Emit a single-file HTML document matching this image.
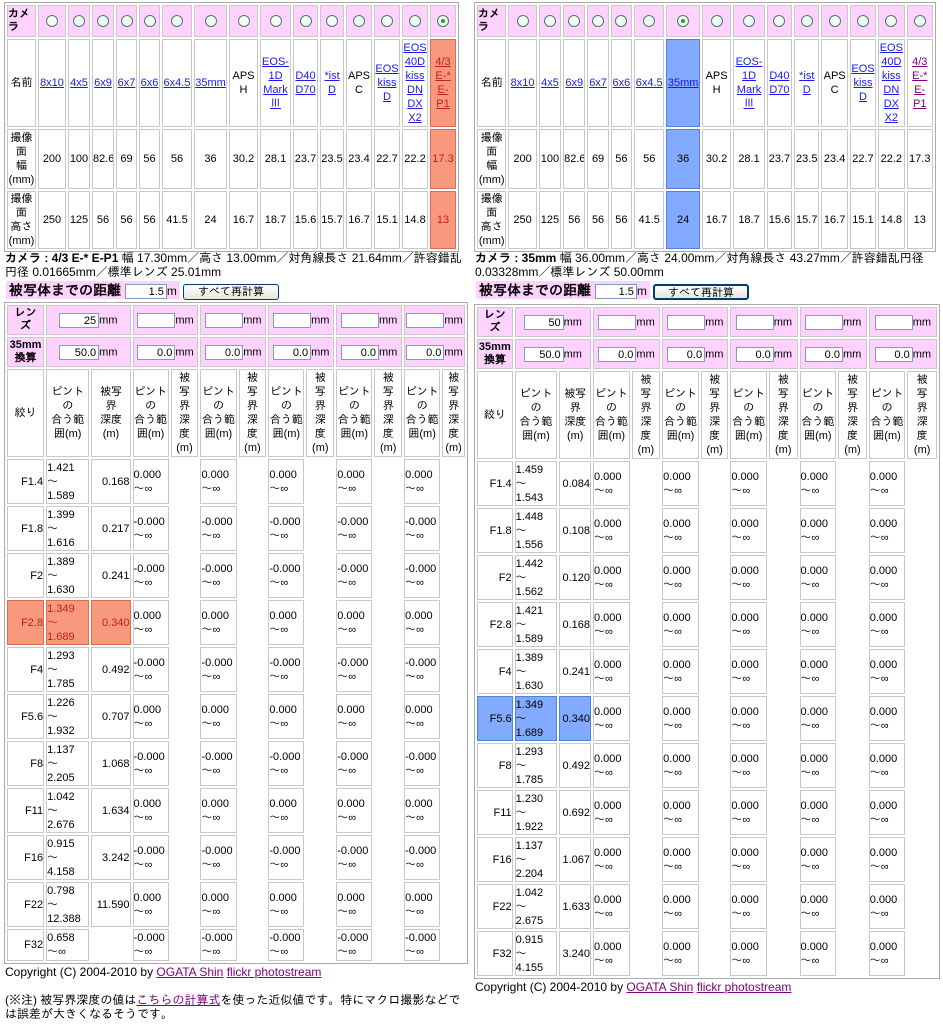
<!DOCTYPE html>
<html><head><meta charset="utf-8">
<style>
body{margin:0;width:943px;height:1024px;background:#fff;font-family:"Liberation Sans","IPAGothic","Noto Sans CJK JP",sans-serif;font-size:11px;color:#000;position:relative;overflow:hidden}
.p{position:absolute}
table{border-collapse:separate;border-spacing:2px;table-layout:fixed;border:1px solid #aaa;empty-cells:hide}
td{border:1px solid #c8c8c8;padding:0;box-sizing:border-box;line-height:14px;overflow:hidden;white-space:nowrap}
.pk{background:#ffd2ff}
.c{text-align:center}
.r{text-align:right}
a{color:#1a1aee;text-decoration:underline}
.sel{background:#f8997e;border-color:#e06a50;color:#c02020}
.sel a{color:#c02020}
.blu{background:#82aaff;border-color:#5080e0}
.rad{display:inline-block;width:10px;height:10px;border:1px solid #4a7a70;border-radius:50%;background:#f4fff4;vertical-align:middle}
.rad.on::after{content:"";display:block;width:4px;height:4px;margin:3px;border-radius:50%;background:#2a9a2a}
.inp{display:inline-block;border:1px solid #7f9db9;background:#fff;height:15px;line-height:15px;text-align:right;padding-right:2px;box-sizing:border-box;vertical-align:middle}
.btn{display:inline-block;border:1px solid #003c74;border-radius:3px;background:linear-gradient(#fff,#e6e6de);height:16px;line-height:14px;font-size:11px;text-align:center;vertical-align:middle;box-sizing:border-box}
.pt{vertical-align:top;text-align:left;padding-top:1px}
.dv{text-align:left}
.hd td{vertical-align:middle;text-align:center;line-height:14px}
.tx{line-height:14px;font-size:12px}
.dist{background:#ffd2ff;font-weight:bold;font-size:14px;padding:1px 3px}
</style></head><body>

<!-- LEFT TOP TABLE -->
<div class="p" style="left:4px;top:2px">
<table style="width:454px">
<col style="width:29px"><col style="width:28px"><col style="width:22px"><col style="width:22px"><col style="width:21px"><col style="width:21px"><col style="width:30px"><col style="width:33px"><col style="width:29px"><col style="width:31px"><col style="width:25px"><col style="width:24px"><col style="width:26px"><col style="width:26px"><col style="width:26px"><col style="width:26px">
<tr style="height:32px"><td class="pk" style="font-weight:bold;line-height:13px">カメ<br>ラ</td><td class="pk c"><span class="rad"></span></td><td class="pk c"><span class="rad"></span></td><td class="pk c"><span class="rad"></span></td><td class="pk c"><span class="rad"></span></td><td class="pk c"><span class="rad"></span></td><td class="pk c"><span class="rad"></span></td><td class="pk c"><span class="rad"></span></td><td class="pk c"><span class="rad"></span></td><td class="pk c"><span class="rad"></span></td><td class="pk c"><span class="rad"></span></td><td class="pk c"><span class="rad"></span></td><td class="pk c"><span class="rad"></span></td><td class="pk c"><span class="rad"></span></td><td class="pk c"><span class="rad"></span></td><td class="pk c"><span class="rad on"></span></td></tr>
<tr style="height:88px" class="c"><td>名前</td><td><a>8x10</a></td><td><a>4x5</a></td><td><a>6x9</a></td><td><a>6x7</a></td><td><a>6x6</a></td><td><a>6x4.5</a></td><td><a>35mm</a></td><td>APS<br>H</td><td><a>EOS-<br>1D<br>Mark<br>Ⅲ</a></td><td><a>D40<br>D70</a></td><td><a>*ist<br>D</a></td><td>APS<br>C</td><td><a>EOS<br>kiss<br>D</a></td><td><a>EOS<br>40D<br>kiss<br>DN<br>DX<br>X2</a></td><td class="sel"><a>4/3<br>E-*<br>E-<br>P1</a></td></tr>
<tr style="height:60px" class="c"><td>撮像<br>面<br>幅<br>(mm)</td><td>200</td><td>100</td><td>82.6</td><td>69</td><td>56</td><td>56</td><td>36</td><td>30.2</td><td>28.1</td><td>23.7</td><td>23.5</td><td>23.4</td><td>22.7</td><td>22.2</td><td class="sel">17.3</td></tr>
<tr style="height:58px" class="c"><td>撮像<br>面<br>高さ<br>(mm)</td><td>250</td><td>125</td><td>56</td><td>56</td><td>56</td><td>41.5</td><td>24</td><td>16.7</td><td>18.7</td><td>15.6</td><td>15.7</td><td>16.7</td><td>15.1</td><td>14.8</td><td class="sel">13</td></tr>
</table></div>

<div class="p tx" style="left:5px;top:251px;width:462px"><b>カメラ : 4/3 E-* E-P1</b> 幅 17.30mm／高さ 13.00mm／対角線長さ 21.64mm／許容錯乱円径 0.01665mm／標準レンズ 25.01mm</div>
<div class="p" style="left:6px;top:282px"><span class="dist">被写体までの距離 <span class="inp" style="width:42px;font-weight:normal;font-size:11px">1.5</span><span style="font-weight:normal;font-size:12px">m</span></span> <span class="btn" style="width:96px">すべて再計算</span></div>

<!-- RIGHT TOP TABLE -->
<div class="p" style="left:474px;top:2px">
<table style="width:462px">
<col style="width:29px"><col style="width:28px"><col style="width:22px"><col style="width:22px"><col style="width:21px"><col style="width:21px"><col style="width:30px"><col style="width:33px"><col style="width:29px"><col style="width:31px"><col style="width:25px"><col style="width:25px"><col style="width:26px"><col style="width:26px"><col style="width:26px"><col style="width:26px">
<tr style="height:32px"><td class="pk" style="font-weight:bold;line-height:13px">カメ<br>ラ</td><td class="pk c"><span class="rad"></span></td><td class="pk c"><span class="rad"></span></td><td class="pk c"><span class="rad"></span></td><td class="pk c"><span class="rad"></span></td><td class="pk c"><span class="rad"></span></td><td class="pk c"><span class="rad"></span></td><td class="pk c"><span class="rad on"></span></td><td class="pk c"><span class="rad"></span></td><td class="pk c"><span class="rad"></span></td><td class="pk c"><span class="rad"></span></td><td class="pk c"><span class="rad"></span></td><td class="pk c"><span class="rad"></span></td><td class="pk c"><span class="rad"></span></td><td class="pk c"><span class="rad"></span></td><td class="pk c"><span class="rad"></span></td></tr>
<tr style="height:88px" class="c"><td>名前</td><td><a>8x10</a></td><td><a>4x5</a></td><td><a>6x9</a></td><td><a>6x7</a></td><td><a>6x6</a></td><td><a>6x4.5</a></td><td class="blu"><a>35mm</a></td><td>APS<br>H</td><td><a>EOS-<br>1D<br>Mark<br>Ⅲ</a></td><td><a>D40<br>D70</a></td><td><a>*ist<br>D</a></td><td>APS<br>C</td><td><a>EOS<br>kiss<br>D</a></td><td><a>EOS<br>40D<br>kiss<br>DN<br>DX<br>X2</a></td><td><a style="color:#800080">4/3<br>E-*<br>E-<br>P1</a></td></tr>
<tr style="height:60px" class="c"><td>撮像<br>面<br>幅<br>(mm)</td><td>200</td><td>100</td><td>82.6</td><td>69</td><td>56</td><td>56</td><td class="blu">36</td><td>30.2</td><td>28.1</td><td>23.7</td><td>23.5</td><td>23.4</td><td>22.7</td><td>22.2</td><td>17.3</td></tr>
<tr style="height:58px" class="c"><td>撮像<br>面<br>高さ<br>(mm)</td><td>250</td><td>125</td><td>56</td><td>56</td><td>56</td><td>41.5</td><td class="blu">24</td><td>16.7</td><td>18.7</td><td>15.6</td><td>15.7</td><td>16.7</td><td>15.1</td><td>14.8</td><td>13</td></tr>
</table></div>

<div class="p tx" style="left:475px;top:251px;width:466px"><b>カメラ : 35mm</b> 幅 36.00mm／高さ 24.00mm／対角線長さ 43.27mm／許容錯乱円径 0.03328mm／標準レンズ 50.00mm</div>
<div class="p" style="left:476px;top:282px"><span class="dist">被写体までの距離 <span class="inp" style="width:42px;font-weight:normal;font-size:11px">1.5</span><span style="font-weight:normal;font-size:12px">m</span></span> <span class="btn" style="width:96px;border-width:2px">すべて再計算</span></div>

<!-- LEFT LOWER TABLE -->
<div class="p" style="left:4px;top:302px">
<table style="width:464px">
<col style="width:36px"><col style="width:42px"><col style="width:38px"><col style="width:35px"><col style="width:27px"><col style="width:35px"><col style="width:27px"><col style="width:35px"><col style="width:27px"><col style="width:35px"><col style="width:27px"><col style="width:35px"><col style="width:22px">
<tr style="height:30px"><td class="pk c" style="font-weight:bold;line-height:13px">レン<br>ズ</td><td colspan="2" class="pk c"><span class="inp" style="width:40px">25</span>mm</td><td colspan="2" class="pk c"><span class="inp" style="width:38px"></span>mm</td><td colspan="2" class="pk c"><span class="inp" style="width:38px"></span>mm</td><td colspan="2" class="pk c"><span class="inp" style="width:38px"></span>mm</td><td colspan="2" class="pk c"><span class="inp" style="width:38px"></span>mm</td><td colspan="2" class="pk c"><span class="inp" style="width:38px"></span>mm</td></tr>
<tr style="height:30px"><td class="pk c" style="font-weight:bold;line-height:13px">35mm<br>換算</td><td colspan="2" class="pk c"><span class="inp" style="width:40px">50.0</span>mm</td><td colspan="2" class="pk c"><span class="inp" style="width:38px">0.0</span>mm</td><td colspan="2" class="pk c"><span class="inp" style="width:38px">0.0</span>mm</td><td colspan="2" class="pk c"><span class="inp" style="width:38px">0.0</span>mm</td><td colspan="2" class="pk c"><span class="inp" style="width:38px">0.0</span>mm</td><td colspan="2" class="pk c"><span class="inp" style="width:38px">0.0</span>mm</td></tr>
<tr style="height:88px" class="hd"><td>絞り</td><td>ピント<br>の<br>合う範<br>囲(m)</td><td>被写<br>界<br>深度<br>(m)</td><td>ピント<br>の<br>合う範<br>囲(m)</td><td>被<br>写<br>界<br>深<br>度<br>(m)</td><td>ピント<br>の<br>合う範<br>囲(m)</td><td>被<br>写<br>界<br>深<br>度<br>(m)</td><td>ピント<br>の<br>合う範<br>囲(m)</td><td>被<br>写<br>界<br>深<br>度<br>(m)</td><td>ピント<br>の<br>合う範<br>囲(m)</td><td>被<br>写<br>界<br>深<br>度<br>(m)</td><td>ピント<br>の<br>合う範<br>囲(m)</td><td>被<br>写<br>界<br>深<br>度<br>(m)</td></tr>
<tr style="height:45px"><td class="r">F1.4</td><td class="pt">1.421<br>～<br>1.589</td><td class="r">0.168</td><td class="dv">0.000<br>～∞</td><td></td><td class="dv">0.000<br>～∞</td><td></td><td class="dv">0.000<br>～∞</td><td></td><td class="dv">0.000<br>～∞</td><td></td><td class="dv">0.000<br>～∞</td><td></td></tr>
<tr style="height:45px"><td class="r">F1.8</td><td class="pt">1.399<br>～<br>1.616</td><td class="r">0.217</td><td class="dv">-0.000<br>～∞</td><td></td><td class="dv">-0.000<br>～∞</td><td></td><td class="dv">-0.000<br>～∞</td><td></td><td class="dv">-0.000<br>～∞</td><td></td><td class="dv">-0.000<br>～∞</td><td></td></tr>
<tr style="height:45px"><td class="r">F2</td><td class="pt">1.389<br>～<br>1.630</td><td class="r">0.241</td><td class="dv">-0.000<br>～∞</td><td></td><td class="dv">-0.000<br>～∞</td><td></td><td class="dv">-0.000<br>～∞</td><td></td><td class="dv">-0.000<br>～∞</td><td></td><td class="dv">-0.000<br>～∞</td><td></td></tr>
<tr style="height:45px"><td class="r sel">F2.8</td><td class="pt sel">1.349<br>～<br>1.689</td><td class="r sel">0.340</td><td class="dv">0.000<br>～∞</td><td></td><td class="dv">0.000<br>～∞</td><td></td><td class="dv">0.000<br>～∞</td><td></td><td class="dv">0.000<br>～∞</td><td></td><td class="dv">0.000<br>～∞</td><td></td></tr>
<tr style="height:45px"><td class="r">F4</td><td class="pt">1.293<br>～<br>1.785</td><td class="r">0.492</td><td class="dv">-0.000<br>～∞</td><td></td><td class="dv">-0.000<br>～∞</td><td></td><td class="dv">-0.000<br>～∞</td><td></td><td class="dv">-0.000<br>～∞</td><td></td><td class="dv">-0.000<br>～∞</td><td></td></tr>
<tr style="height:45px"><td class="r">F5.6</td><td class="pt">1.226<br>～<br>1.932</td><td class="r">0.707</td><td class="dv">0.000<br>～∞</td><td></td><td class="dv">0.000<br>～∞</td><td></td><td class="dv">0.000<br>～∞</td><td></td><td class="dv">0.000<br>～∞</td><td></td><td class="dv">0.000<br>～∞</td><td></td></tr>
<tr style="height:45px"><td class="r">F8</td><td class="pt">1.137<br>～<br>2.205</td><td class="r">1.068</td><td class="dv">-0.000<br>～∞</td><td></td><td class="dv">-0.000<br>～∞</td><td></td><td class="dv">-0.000<br>～∞</td><td></td><td class="dv">-0.000<br>～∞</td><td></td><td class="dv">-0.000<br>～∞</td><td></td></tr>
<tr style="height:45px"><td class="r">F11</td><td class="pt">1.042<br>～<br>2.676</td><td class="r">1.634</td><td class="dv">0.000<br>～∞</td><td></td><td class="dv">0.000<br>～∞</td><td></td><td class="dv">0.000<br>～∞</td><td></td><td class="dv">0.000<br>～∞</td><td></td><td class="dv">0.000<br>～∞</td><td></td></tr>
<tr style="height:45px"><td class="r">F16</td><td class="pt">0.915<br>～<br>4.158</td><td class="r">3.242</td><td class="dv">-0.000<br>～∞</td><td></td><td class="dv">-0.000<br>～∞</td><td></td><td class="dv">-0.000<br>～∞</td><td></td><td class="dv">-0.000<br>～∞</td><td></td><td class="dv">-0.000<br>～∞</td><td></td></tr>
<tr style="height:45px"><td class="r">F22</td><td class="pt">0.798<br>～<br>12.388</td><td class="r">11.590</td><td class="dv">0.000<br>～∞</td><td></td><td class="dv">0.000<br>～∞</td><td></td><td class="dv">0.000<br>～∞</td><td></td><td class="dv">0.000<br>～∞</td><td></td><td class="dv">0.000<br>～∞</td><td></td></tr>
<tr style="height:32px"><td class="r">F32</td><td class="pt">0.658<br>～∞</td><td></td><td class="dv">-0.000<br>～∞</td><td></td><td class="dv">-0.000<br>～∞</td><td></td><td class="dv">-0.000<br>～∞</td><td></td><td class="dv">-0.000<br>～∞</td><td></td><td class="dv">-0.000<br>～∞</td><td></td></tr>
</table></div>

<div class="p tx" style="left:5px;top:965px">Copyright (C) 2004-2010 by <a style="color:#800080">OGATA Shin</a> <a style="color:#800080">flickr photostream</a></div>
<div class="p tx" style="left:5px;top:993px;width:462px">(※注) 被写界深度の値は<a style="color:#800080">こちらの計算式</a>を使った近似値です。特にマクロ撮影などでは誤差が大きくなるそうです。</div>

<!-- RIGHT LOWER TABLE -->
<div class="p" style="left:474px;top:304px">
<table style="width:466px">
<col style="width:35px"><col style="width:42px"><col style="width:31px"><col style="width:36px"><col style="width:28px"><col style="width:36px"><col style="width:27px"><col style="width:36px"><col style="width:28px"><col style="width:36px"><col style="width:28px"><col style="width:36px"><col style="width:29px">
<tr style="height:30px"><td class="pk c" style="font-weight:bold;line-height:13px">レン<br>ズ</td><td colspan="2" class="pk c"><span class="inp" style="width:40px">50</span>mm</td><td colspan="2" class="pk c"><span class="inp" style="width:38px"></span>mm</td><td colspan="2" class="pk c"><span class="inp" style="width:38px"></span>mm</td><td colspan="2" class="pk c"><span class="inp" style="width:38px"></span>mm</td><td colspan="2" class="pk c"><span class="inp" style="width:38px"></span>mm</td><td colspan="2" class="pk c"><span class="inp" style="width:38px"></span>mm</td></tr>
<tr style="height:30px"><td class="pk c" style="font-weight:bold;line-height:13px">35mm<br>換算</td><td colspan="2" class="pk c"><span class="inp" style="width:40px">50.0</span>mm</td><td colspan="2" class="pk c"><span class="inp" style="width:38px">0.0</span>mm</td><td colspan="2" class="pk c"><span class="inp" style="width:38px">0.0</span>mm</td><td colspan="2" class="pk c"><span class="inp" style="width:38px">0.0</span>mm</td><td colspan="2" class="pk c"><span class="inp" style="width:38px">0.0</span>mm</td><td colspan="2" class="pk c"><span class="inp" style="width:38px">0.0</span>mm</td></tr>
<tr style="height:88px" class="hd"><td>絞り</td><td>ピント<br>の<br>合う範<br>囲(m)</td><td>被写<br>界<br>深度<br>(m)</td><td>ピント<br>の<br>合う範<br>囲(m)</td><td>被<br>写<br>界<br>深<br>度<br>(m)</td><td>ピント<br>の<br>合う範<br>囲(m)</td><td>被<br>写<br>界<br>深<br>度<br>(m)</td><td>ピント<br>の<br>合う範<br>囲(m)</td><td>被<br>写<br>界<br>深<br>度<br>(m)</td><td>ピント<br>の<br>合う範<br>囲(m)</td><td>被<br>写<br>界<br>深<br>度<br>(m)</td><td>ピント<br>の<br>合う範<br>囲(m)</td><td>被<br>写<br>界<br>深<br>度<br>(m)</td></tr>
<tr style="height:45px"><td class="r">F1.4</td><td class="pt">1.459<br>～<br>1.543</td><td class="r">0.084</td><td class="dv">0.000<br>～∞</td><td></td><td class="dv">0.000<br>～∞</td><td></td><td class="dv">0.000<br>～∞</td><td></td><td class="dv">0.000<br>～∞</td><td></td><td class="dv">0.000<br>～∞</td><td></td></tr>
<tr style="height:45px"><td class="r">F1.8</td><td class="pt">1.448<br>～<br>1.556</td><td class="r">0.108</td><td class="dv">0.000<br>～∞</td><td></td><td class="dv">0.000<br>～∞</td><td></td><td class="dv">0.000<br>～∞</td><td></td><td class="dv">0.000<br>～∞</td><td></td><td class="dv">0.000<br>～∞</td><td></td></tr>
<tr style="height:45px"><td class="r">F2</td><td class="pt">1.442<br>～<br>1.562</td><td class="r">0.120</td><td class="dv">0.000<br>～∞</td><td></td><td class="dv">0.000<br>～∞</td><td></td><td class="dv">0.000<br>～∞</td><td></td><td class="dv">0.000<br>～∞</td><td></td><td class="dv">0.000<br>～∞</td><td></td></tr>
<tr style="height:45px"><td class="r">F2.8</td><td class="pt">1.421<br>～<br>1.589</td><td class="r">0.168</td><td class="dv">0.000<br>～∞</td><td></td><td class="dv">0.000<br>～∞</td><td></td><td class="dv">0.000<br>～∞</td><td></td><td class="dv">0.000<br>～∞</td><td></td><td class="dv">0.000<br>～∞</td><td></td></tr>
<tr style="height:45px"><td class="r">F4</td><td class="pt">1.389<br>～<br>1.630</td><td class="r">0.241</td><td class="dv">0.000<br>～∞</td><td></td><td class="dv">0.000<br>～∞</td><td></td><td class="dv">0.000<br>～∞</td><td></td><td class="dv">0.000<br>～∞</td><td></td><td class="dv">0.000<br>～∞</td><td></td></tr>
<tr style="height:45px"><td class="r blu">F5.6</td><td class="pt blu">1.349<br>～<br>1.689</td><td class="r blu">0.340</td><td class="dv">0.000<br>～∞</td><td></td><td class="dv">0.000<br>～∞</td><td></td><td class="dv">0.000<br>～∞</td><td></td><td class="dv">0.000<br>～∞</td><td></td><td class="dv">0.000<br>～∞</td><td></td></tr>
<tr style="height:45px"><td class="r">F8</td><td class="pt">1.293<br>～<br>1.785</td><td class="r">0.492</td><td class="dv">0.000<br>～∞</td><td></td><td class="dv">0.000<br>～∞</td><td></td><td class="dv">0.000<br>～∞</td><td></td><td class="dv">0.000<br>～∞</td><td></td><td class="dv">0.000<br>～∞</td><td></td></tr>
<tr style="height:45px"><td class="r">F11</td><td class="pt">1.230<br>～<br>1.922</td><td class="r">0.692</td><td class="dv">0.000<br>～∞</td><td></td><td class="dv">0.000<br>～∞</td><td></td><td class="dv">0.000<br>～∞</td><td></td><td class="dv">0.000<br>～∞</td><td></td><td class="dv">0.000<br>～∞</td><td></td></tr>
<tr style="height:45px"><td class="r">F16</td><td class="pt">1.137<br>～<br>2.204</td><td class="r">1.067</td><td class="dv">0.000<br>～∞</td><td></td><td class="dv">0.000<br>～∞</td><td></td><td class="dv">0.000<br>～∞</td><td></td><td class="dv">0.000<br>～∞</td><td></td><td class="dv">0.000<br>～∞</td><td></td></tr>
<tr style="height:45px"><td class="r">F22</td><td class="pt">1.042<br>～<br>2.675</td><td class="r">1.633</td><td class="dv">0.000<br>～∞</td><td></td><td class="dv">0.000<br>～∞</td><td></td><td class="dv">0.000<br>～∞</td><td></td><td class="dv">0.000<br>～∞</td><td></td><td class="dv">0.000<br>～∞</td><td></td></tr>
<tr style="height:45px"><td class="r">F32</td><td class="pt">0.915<br>～<br>4.155</td><td class="r">3.240</td><td class="dv">0.000<br>～∞</td><td></td><td class="dv">0.000<br>～∞</td><td></td><td class="dv">0.000<br>～∞</td><td></td><td class="dv">0.000<br>～∞</td><td></td><td class="dv">0.000<br>～∞</td><td></td></tr>
</table></div>

<div class="p tx" style="left:475px;top:980px">Copyright (C) 2004-2010 by <a style="color:#800080">OGATA Shin</a> <a style="color:#800080">flickr photostream</a></div>
</body></html>
